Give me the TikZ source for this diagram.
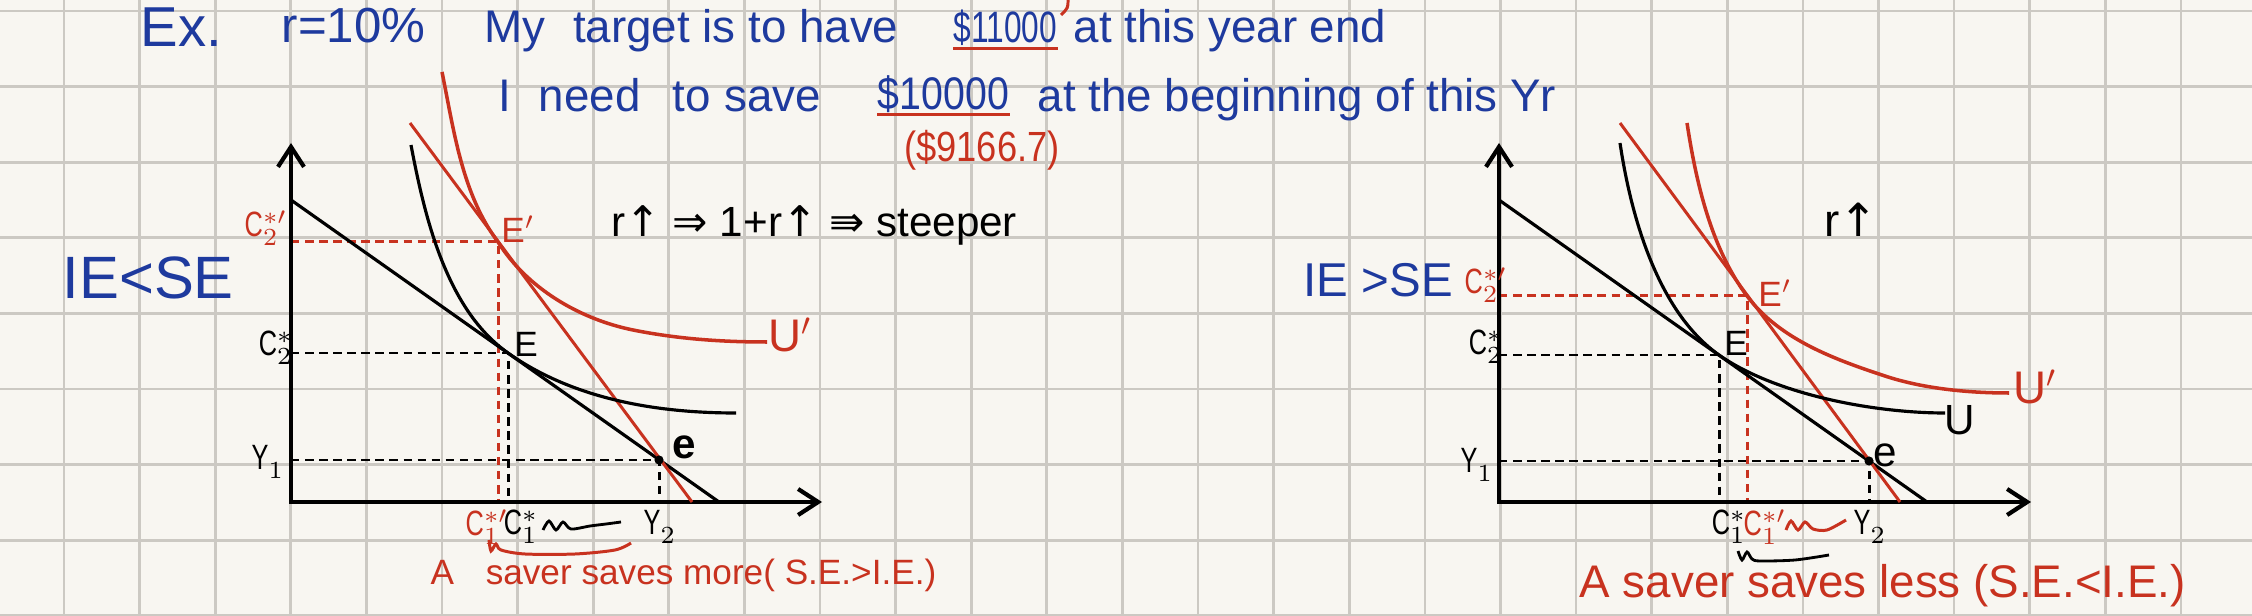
\documentclass[tikz,border=0pt]{standalone}
\usepackage{fontspec}
\setmainfont{Liberation Sans}
\newfontfamily\arrowfont{DejaVu Sans}
\newfontfamily\narrowfont[FakeStretch=0.72]{Liberation Sans}
\newfontfamily\midfont[FakeStretch=0.86]{Liberation Sans}
\usepackage{xcolor}
\definecolor{CPaper}{HTML}{F8F6F1}
\definecolor{CGrid}{HTML}{CCC9C3}
\definecolor{CInk}{HTML}{1E3A9E}
\definecolor{CRed}{HTML}{C8321F}
\usetikzlibrary{arrows.meta}
\tikzstyle{gridLine}=[draw=CGrid, line width=0.75pt]
\tikzstyle{axisLine}=[{Straight Barb[length=2mm,width=2.6mm]}-{Straight Barb[length=2mm,width=2.6mm]}, line width=1.2pt]
\tikzstyle{budgetLine}=[line width=0.9pt]
\tikzstyle{redLine}=[draw=CRed, line width=0.85pt]
\tikzstyle{guideLine}=[dash pattern=on 2.4pt off 1.6pt, line width=0.85pt]
\tikzstyle{noteText}=[text=CInk, inner sep=0pt, font=\fontsize{13}{15}\selectfont]
\tikzstyle{redText}=[text=CRed, inner sep=0pt, font=\fontsize{10}{12}\selectfont]
\tikzstyle{axisLabel}=[inner sep=0pt, font=\fontsize{10}{11}\selectfont]
\newcommand{\up}{{\arrowfont ↑}}
\newcommand{\cl}[3]{{\narrowfont #1}$_{#2}^{#3}$}

\begin{document}
\begin{tikzpicture}[x=0.01cm, y=-0.01cm]
\fill[CPaper] (0,0) rectangle (2252,616);
\useasboundingbox (0,0) rectangle (2252,616);
\foreach \i in {0,...,28}
  \draw[gridLine] ({64+75.6*\i},0) -- ({64+75.6*\i},616);
\foreach \j in {0,...,8}
  \draw[gridLine] (0,{11+75.6*\j}) -- (2252,{11+75.6*\j});

% notes
\node[noteText, anchor=base west, font=\fontsize{16}{18}\selectfont] (ex) at (140,47) {Ex.};
\node[noteText, anchor=base west, font=\fontsize{14}{16}\selectfont] (rate) at (281,43) {r=10\%};
\node[noteText, anchor=base west] (t1) at (484,43) {My\hspace{0.6em}target is to have};
\node[noteText, anchor=base west, font=\narrowfont\fontsize{12.5}{15}\selectfont] (d1) at (953,43) {\$11000};
\node[noteText, anchor=base west] (t2) at (1073,43) {at this year end};
\node[noteText, anchor=base west] (t3) at (498,112) {I\hspace{0.6em}need\hspace{0.7em}to\hspace{0.3em}save};
\node[noteText, anchor=base west, font=\midfont\fontsize{13}{15}\selectfont] (d2) at (877,110) {\$10000};
\node[noteText, anchor=base west] (t4) at (1037,112) {at the beginning of this Yr};
\node[redText, font=\midfont\fontsize{12}{14}\selectfont] (pv) at (982,150) {(\$9166.7)};
\draw[redLine, line width=1pt] ([yshift=-1.5pt]d1.base west) -- ([yshift=-1.5pt]d1.base east);
\draw[redLine, line width=1pt] ([yshift=-1.3pt]d2.base west) -- ([yshift=-1.3pt]d2.base east);
\draw[redLine] (1068,0) .. controls (1068,8) .. (1061,15);

\node[noteText, anchor=base west, font=\fontsize{17}{19}\selectfont] (ie1) at (62,299) {IE<SE};
\node[noteText, anchor=base west, font=\fontsize{13.5}{15}\selectfont] (ie2) at (1303,297) {IE >SE};
\node[anchor=base west, inner sep=0pt, font=\fontsize{12}{14}\selectfont] (rule) at (611,237)
  {r\up\ {\arrowfont ⇒} 1+r\up\ {\arrowfont ⇛} steeper};
\node[anchor=base west, inner sep=0pt, font=\fontsize{13}{15}\selectfont] (rup) at (1824,237) {r\up};

% left panel
\coordinate (o1) at (291,502);
\coordinate (E1) at (508,353);
\coordinate (F1) at (498,242);
\coordinate (e1) at (659,460);
\draw[guideLine] (E1 -| o1) -- (E1) -- (E1 |- o1);
\draw[guideLine] (e1 -| o1) -- (e1) -- (e1 |- o1);
\draw[guideLine, CRed] (F1 -| o1) -- (F1) -- (F1 |- o1);
\draw[axisLine] (291,143) -- (o1) -- (822,502);
\draw[budgetLine] (291,200) -- (719,502);
\draw[redLine] (410,123) -- (692,502);
\draw[budgetLine] (411,145) .. controls (425,219) and (447,310) .. (E1)
  .. controls (573,399) and (656,413) .. (736,413);
\draw[redLine, line width=1pt] (442,72) .. controls (454,131) and (462,194) .. (F1)
  .. controls (527,288) and (579,319) .. (633,330) .. controls (678,339) and (722,342) .. (767,342);
\fill (e1) circle (1.3pt);

\node[axisLabel, text=CRed] (c2p) at (266,228) {\cl{C}{2}{*\prime}};
\node[axisLabel] (c2) at (276,348) {\cl{C}{2}{*}};
\node[axisLabel] (y1) at (268,462) {\cl{Y}{1}{}};
\node[axisLabel, text=CRed] (lEp) at (518,229) {E$'$};
\node[axisLabel] (lE) at (526,344) {E};
\node[axisLabel, font=\bfseries\fontsize{12}{13}\selectfont] (le) at (684,447) {e};
\node[axisLabel, text=CRed, font=\fontsize{13}{14}\selectfont] (lU) at (790,335) {U$'$};
\node[axisLabel, text=CRed] (c1p) at (487,527) {\cl{C}{1}{*\prime}};
\node[axisLabel] (c1) at (521,527) {\cl{C}{1}{*}};
\node[axisLabel] (y2) at (660,527) {\cl{Y}{2}{}};
\draw[line width=0.8pt] plot[smooth] coordinates {(543,530) (549,521) (556,530) (563,522) (571,529) (590,526) (606,524) (621,522)};
\draw[redLine] plot[smooth] coordinates {(489,540) (491,551) (496,544) (501,550) (525,554) (575,554) (615,550) (631,543)};
\node[redText, anchor=base west] (more) at (430,585) {A\hspace{0.9em}saver saves more( S.E.>I.E.)};

% right panel
\coordinate (o2) at (1499,502);
\coordinate (E2) at (1719,355);
\coordinate (F2) at (1747,296);
\coordinate (e2) at (1869,461);
\draw[guideLine] (E2 -| o2) -- (E2) -- (E2 |- o2);
\draw[guideLine] (e2 -| o2) -- (e2) -- (e2 |- o2);
\draw[guideLine, CRed] (F2 -| o2) -- (F2) -- (F2 |- o2);
\draw[axisLine] (1499,143) -- (o2) -- (2031,502);
\draw[budgetLine] (1499,200) -- (1927,502);
\draw[redLine] (1620,123) -- (1900,502);
\draw[budgetLine] (1620,143) .. controls (1631,217) and (1658,312) .. (E2)
  .. controls (1776,395) and (1875,413) .. (1945,413);
\draw[redLine, line width=1pt] (1687,123) .. controls (1696,182) and (1711,248) .. (F2)
  .. controls (1780,340) and (1836,360) .. (1888,377) .. controls (1926,389) and (1970,393) .. (2009,393);
\fill (e2) circle (1.3pt);

\node[axisLabel, text=CRed] (c2pr) at (1486,285) {\cl{C}{2}{*\prime}};
\node[axisLabel] (c2r) at (1486,347) {\cl{C}{2}{*}};
\node[axisLabel] (y1r) at (1477,465) {\cl{Y}{1}{}};
\node[axisLabel, text=CRed] (rEp) at (1775,293) {E$'$};
\node[axisLabel] (rE) at (1736,343) {E};
\node[axisLabel, font=\fontsize{12}{13}\selectfont] (re) at (1885,455) {e};
\node[axisLabel, font=\fontsize{12}{13}\selectfont] (rU) at (1960,420) {U};
\node[axisLabel, text=CRed, font=\fontsize{13}{14}\selectfont] (rUp) at (2035,387) {U$'$};
\node[axisLabel] (c1r) at (1729,527) {\cl{C}{1}{*}};
\node[axisLabel, text=CRed] (c1pr) at (1765,527) {\cl{C}{1}{*\prime}};
\node[axisLabel] (y2r) at (1870,527) {\cl{Y}{2}{}};
\draw[redLine] plot[smooth] coordinates {(1786,530) (1791,521) (1798,530) (1805,522) (1813,529) (1827,530) (1846,520)};
\draw[line width=0.8pt] plot[smooth] coordinates {(1738,551) (1742,560) (1747,552) (1752,559) (1760,561) (1795,560) (1829,555)};
\node[redText, anchor=base west, font=\fontsize{13}{15}\selectfont] (less) at (1579,597) {A saver saves less (S.E.<I.E.)};
\end{tikzpicture}
\end{document}
